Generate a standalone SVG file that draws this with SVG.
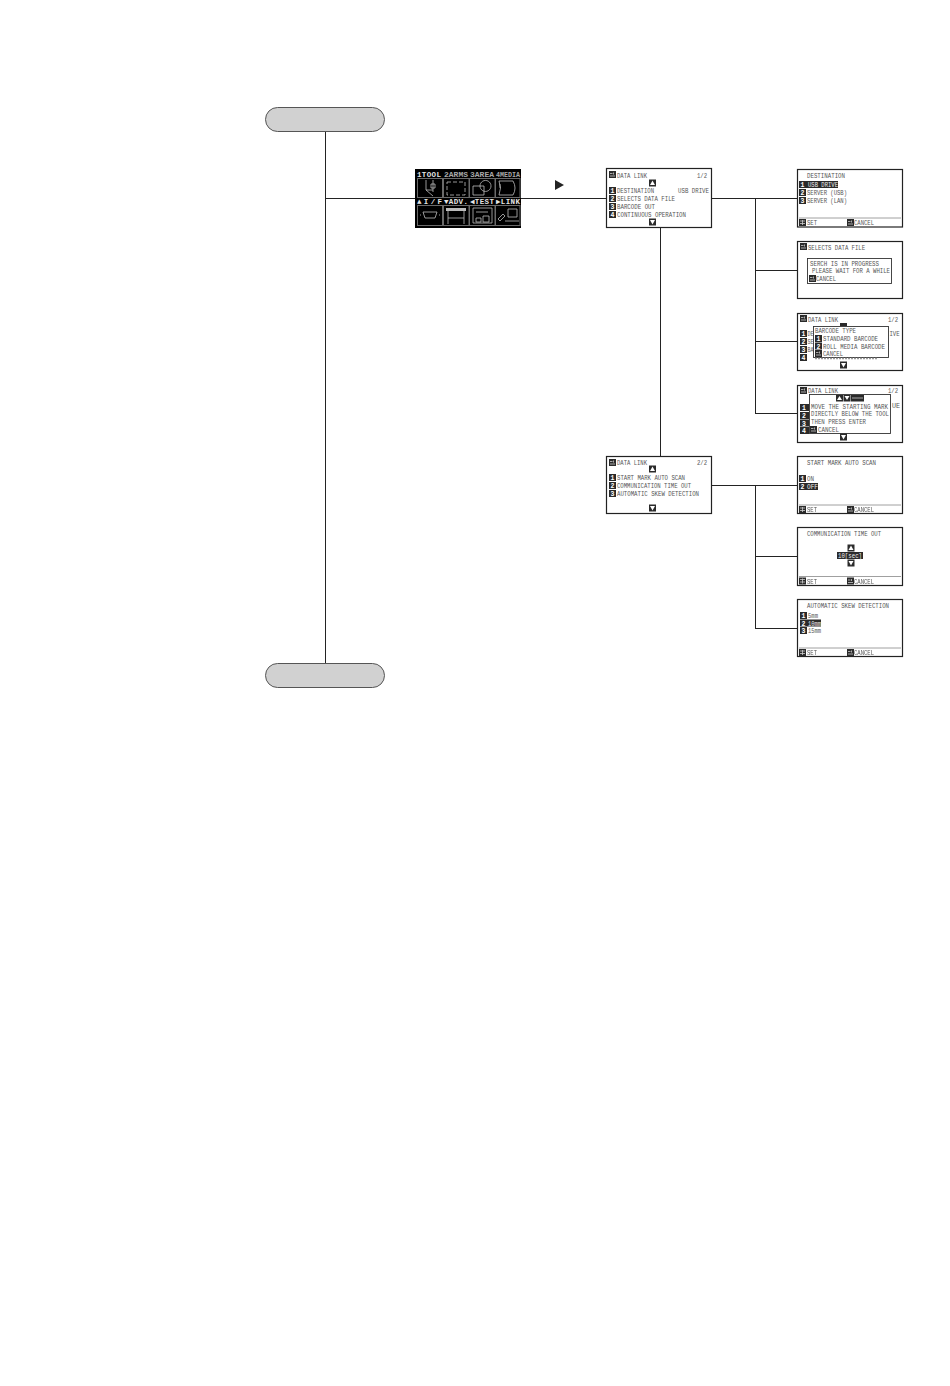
<svg xmlns="http://www.w3.org/2000/svg" width="950" height="1386" viewBox="0 0 950 1386">
<style>
.bg{fill:#fff}
.pill{fill:#d1d1d1;stroke:#555;stroke-width:1}
.panel{fill:#fff;stroke:#222;stroke-width:1.2}
.pop{fill:#fff;stroke:#333;stroke-width:.9}
.conn{fill:none;stroke:#222;stroke-width:1}
.sep{stroke:#888;stroke-width:.8}
.k{fill:#2a2a2a}
g[id]{opacity:.995}
text{font-family:"Liberation Mono",monospace;font-size:8px;fill:#555}
.n{font-size:6.5px;fill:#fff;font-weight:bold}
.w{fill:#eee}
.m{font-family:"Liberation Mono",monospace;font-size:7.5px;font-weight:bold;fill:#e4e4e4}
.d{fill:#a8a8a8}
.tri{fill:#222}
.ico{fill:none;stroke:#bbb;stroke-width:.8}
.cell{fill:#000;stroke:#6a6a6a;stroke-width:1}
.kk{stroke:#ccc;stroke-width:.8;fill:none}
</style>
<defs>
<g id="up"><rect x="-3.500" y="-3.500" width="7" height="7" class="k"/><path d="M0-2.500 2.500 2H-2.500Z" fill="#fff"/></g>
<g id="dn"><rect x="-3.500" y="-3.500" width="7" height="7" class="k"/><path d="M0 2.500 2.500-2H-2.500Z" fill="#fff"/></g>
<g id="esc"><rect width="7" height="7" class="k"/><path d="M1 2.500H3.500M1 5H6M4.500 1.500V3.500" class="kk"/></g>
<g id="set"><rect width="7" height="7" class="k"/><path d="M1 2H6M1 4.500H6M3.500 1V6" class="kk"/></g>
<g id="foot">
<line x1="799" y1="218" x2="901" y2="218" class="sep"/>
<use href="#set" x="799" y="219"/><text x="807" y="225" textLength="10" lengthAdjust="spacingAndGlyphs">SET</text>
<use href="#esc" x="847" y="219"/><text x="854" y="225" textLength="20" lengthAdjust="spacingAndGlyphs">CANCEL</text>
</g>
</defs>
<rect class="bg" width="950" height="1386"/>
<g id="connectors" class="conn">
<path d="M325.500 131V663M325 198.500H415M521 198.500H606M711 198.500H797M755.500 198V413.500M755 270.500H797M755 341.500H797M755 413.500H797M660.500 227V456M711 485.500H797M755.500 485V628.500M755 556.500H797M755 628.500H797"/>
</g>
<g id="start"><rect class="pill" x="265.500" y="107.500" width="119" height="24" rx="12"/></g>
<g id="end"><rect class="pill" x="265.500" y="663.500" width="119" height="24" rx="12"/></g>
<g id="arrow"><path class="tri" d="M555 180 564 185 555 190Z"/></g>

<g id="menu">
<rect x="415" y="169" width="106" height="59" fill="#000"/>
<text class="m" x="417" y="177" textLength="24" lengthAdjust="spacing">1TOOL</text>
<text class="m d" x="444" y="177" textLength="24" lengthAdjust="spacingAndGlyphs">2ARMS</text>
<text class="m d" x="470" y="177" textLength="24" lengthAdjust="spacingAndGlyphs">3AREA</text>
<text class="m d" x="496" y="177" textLength="24" lengthAdjust="spacingAndGlyphs">4MEDIA</text>
<rect class="cell" x="417.500" y="178.500" width="25" height="19"/><rect class="cell" x="443.500" y="178.500" width="25.500" height="19"/><rect class="cell" x="469.500" y="178.500" width="25.500" height="19"/><rect class="cell" x="495.500" y="178.500" width="24.500" height="19"/>
<path class="ico" d="M426 180V190L433 196M433 180V192M431 184H435V188H431ZM426 190H433"/>
<path class="ico" stroke-dasharray="4 2" d="M447 182H465V195H447Z"/>
<path class="ico" d="M473 186H484V195H473ZM491 186A5.500 5.500 0 1 1 491 185.900"/>
<path class="ico" d="M499 181H513Q517 188 513 195H499M499 181Q502 188 499 195M500 184V188"/>
<text class="m" x="417" y="204" textLength="25" lengthAdjust="spacing">▲I/F</text>
<text class="m" x="444" y="204" textLength="24" lengthAdjust="spacing">▼ADV.</text>
<text class="m" x="470" y="204" textLength="24" lengthAdjust="spacing">◀TEST</text>
<text class="m" x="496" y="204" textLength="24" lengthAdjust="spacing">▶LINK</text>
<rect class="cell" x="417.500" y="205.500" width="25" height="20"/><rect class="cell" x="443.500" y="205.500" width="25.500" height="20"/><rect class="cell" x="469.500" y="205.500" width="25.500" height="20"/><rect class="cell" x="495.500" y="205.500" width="24.500" height="20"/>
<path class="ico" d="M423 212H437L435 218H425ZM420 215H421M439 215H440"/>
<path d="M446 208H466V211H446Z" fill="#bbb"/><path class="ico" d="M448 211V224M464 211V224M448 218H464"/>
<path class="ico" d="M473 208H492V223H473ZM476 212H488M476 218H481V222H476ZM483 216H489V222H483Z"/>
<path class="ico" d="M498 219 503 214 505 216 500 221ZM508 209H517V217H508ZM505 221H519"/>
</g>

<g id="data-link-1">
<rect class="panel" x="606.500" y="168.500" width="105" height="59"/>
<use href="#esc" x="609" y="171"/>
<text x="617" y="177.500" textLength="30" lengthAdjust="spacingAndGlyphs">DATA LINK</text>
<text x="697" y="177.500" textLength="10" lengthAdjust="spacingAndGlyphs">1/2</text>
<use href="#up" x="652.500" y="183"/>
<rect x="609" y="187" width="7" height="7" class="k"/><text class="n" x="610.500" y="193">1</text>
<text x="617" y="193" textLength="37" lengthAdjust="spacingAndGlyphs">DESTINATION</text>
<text x="678" y="193" textLength="31" lengthAdjust="spacingAndGlyphs">USB DRIVE</text>
<rect x="609" y="195" width="7" height="7" class="k"/><text class="n" x="610.500" y="201">2</text>
<text x="617" y="201" textLength="58" lengthAdjust="spacingAndGlyphs">SELECTS DATA FILE</text>
<rect x="609" y="203" width="7" height="7" class="k"/><text class="n" x="610.500" y="209">3</text>
<text x="617" y="209" textLength="38" lengthAdjust="spacingAndGlyphs">BARCODE OUT</text>
<rect x="609" y="211" width="7" height="7" class="k"/><text class="n" x="610.500" y="217">4</text>
<text x="617" y="217" textLength="69" lengthAdjust="spacingAndGlyphs">CONTINUOUS OPERATION</text>
<use href="#dn" x="652.500" y="222"/>
</g>

<g id="data-link-2">
<rect class="panel" x="606.500" y="456.500" width="105" height="57"/>
<use href="#esc" x="609" y="459"/>
<text x="617" y="465" textLength="30" lengthAdjust="spacingAndGlyphs">DATA LINK</text>
<text x="697" y="465" textLength="10" lengthAdjust="spacingAndGlyphs">2/2</text>
<use href="#up" x="652.500" y="469"/>
<rect x="609" y="474" width="7" height="7" class="k"/><text class="n" x="610.500" y="480">1</text>
<text x="617" y="480" textLength="68" lengthAdjust="spacingAndGlyphs">START MARK AUTO SCAN</text>
<rect x="609" y="482" width="7" height="7" class="k"/><text class="n" x="610.500" y="488">2</text>
<text x="617" y="488" textLength="74" lengthAdjust="spacingAndGlyphs">COMMUNICATION TIME OUT</text>
<rect x="609" y="490" width="7" height="7" class="k"/><text class="n" x="610.500" y="496">3</text>
<text x="617" y="496" textLength="82" lengthAdjust="spacingAndGlyphs">AUTOMATIC SKEW DETECTION</text>
<use href="#dn" x="652.500" y="508"/>
</g>

<g id="destination">
<rect class="panel" x="797.500" y="169.500" width="105" height="57.500"/>
<text x="807" y="177.500" textLength="38" lengthAdjust="spacingAndGlyphs">DESTINATION</text>
<rect x="799" y="181" width="39" height="7" class="k"/><text class="n" x="800.500" y="187">1</text>
<text class="w" x="808" y="187" textLength="30" lengthAdjust="spacingAndGlyphs">USB DRIVE</text>
<rect x="799" y="189" width="7" height="7" class="k"/><text class="n" x="800.500" y="195">2</text>
<text x="807" y="195" textLength="40" lengthAdjust="spacingAndGlyphs">SERVER (USB)</text>
<rect x="799" y="197" width="7" height="7" class="k"/><text class="n" x="800.500" y="203">3</text>
<text x="807" y="203" textLength="40" lengthAdjust="spacingAndGlyphs">SERVER (LAN)</text>
<use href="#foot"/>
</g>

<g id="selects-data-file">
<rect class="panel" x="797.500" y="241.500" width="105" height="57"/>
<use href="#esc" x="800" y="243"/>
<text x="808" y="249.500" textLength="57" lengthAdjust="spacingAndGlyphs">SELECTS DATA FILE</text>
<rect class="pop" x="807.500" y="258.500" width="84" height="25"/>
<text x="810" y="265.500" textLength="69" lengthAdjust="spacingAndGlyphs">SERCH IS IN PROGRESS</text>
<text x="812" y="273" textLength="78" lengthAdjust="spacingAndGlyphs">PLEASE WAIT FOR A WHILE</text>
<use href="#esc" x="809" y="275"/>
<text x="816" y="281" textLength="20" lengthAdjust="spacingAndGlyphs">CANCEL</text>
</g>

<g id="barcode-type">
<rect class="panel" x="797.500" y="313.500" width="105" height="57"/>
<use href="#esc" x="800" y="315"/>
<text x="808" y="321.500" textLength="30" lengthAdjust="spacingAndGlyphs">DATA LINK</text>
<text x="888" y="321.500" textLength="10" lengthAdjust="spacingAndGlyphs">1/2</text>
<rect x="800" y="330" width="7" height="7" class="k"/><text class="n" x="801.500" y="336">1</text><text x="807.500" y="336" textLength="6" lengthAdjust="spacingAndGlyphs">DE</text>
<rect x="800" y="338" width="7" height="7" class="k"/><text class="n" x="801.500" y="344">2</text><text x="807.500" y="344" textLength="6" lengthAdjust="spacingAndGlyphs">SE</text>
<rect x="800" y="346" width="7" height="7" class="k"/><text class="n" x="801.500" y="352">3</text><text x="807.500" y="352" textLength="6" lengthAdjust="spacingAndGlyphs">BA</text>
<rect x="800" y="354" width="7" height="7" class="k"/><text class="n" x="801.500" y="360">4</text>
<text x="889.500" y="336" textLength="10" lengthAdjust="spacingAndGlyphs">IVE</text>
<rect x="840" y="323" width="7" height="3" class="k"/>
<rect class="pop" x="813.500" y="326.500" width="75" height="31"/>
<text x="815" y="333" textLength="41" lengthAdjust="spacingAndGlyphs">BARCODE TYPE</text>
<rect x="815" y="335" width="7" height="7" class="k"/><text class="n" x="816.500" y="341">1</text>
<text x="823" y="341" textLength="55" lengthAdjust="spacingAndGlyphs">STANDARD BARCODE</text>
<rect x="815" y="342.500" width="7" height="7" class="k"/><text class="n" x="816.500" y="348.500">2</text>
<text x="823" y="348.500" textLength="62" lengthAdjust="spacingAndGlyphs">ROLL MEDIA BARCODE</text>
<use href="#esc" x="815" y="350"/>
<text x="823" y="356" textLength="20" lengthAdjust="spacingAndGlyphs">CANCEL</text>
<path d="M815 358.500H877" stroke="#999" stroke-width="1.500" stroke-dasharray="2 1"/>
<use href="#dn" x="843.500" y="365"/>
</g>

<g id="start-mark-help">
<rect class="panel" x="797.500" y="385.500" width="105" height="57"/>
<use href="#esc" x="800" y="387"/>
<text x="808" y="393" textLength="30" lengthAdjust="spacingAndGlyphs">DATA LINK</text>
<text x="888" y="393" textLength="10" lengthAdjust="spacingAndGlyphs">1/2</text>
<rect x="800" y="404" width="9" height="7" class="k"/><text class="n" x="802" y="410">1</text>
<rect x="800" y="412" width="9" height="7" class="k"/><text class="n" x="802" y="418">2</text>
<rect x="800" y="419.500" width="9" height="7" class="k"/><text class="n" x="802" y="425.500">3</text>
<rect x="800" y="427" width="9" height="7" class="k"/><text class="n" x="802" y="433">4</text>
<text x="892" y="408" textLength="8" lengthAdjust="spacingAndGlyphs">UE</text>
<rect class="pop" x="809.500" y="394.500" width="81" height="39"/>
<rect x="836" y="395" width="7" height="6.500" class="k"/><path d="M839.500 396 842 400H837Z" fill="#fff"/>
<rect x="843.500" y="395" width="7" height="6.500" class="k"/><path d="M847 400 849.500 396H844.500Z" fill="#fff"/>
<rect x="851" y="395" width="13" height="6.500" class="k"/><path d="M852 398H863" class="kk"/>
<text x="811" y="408.500" textLength="77" lengthAdjust="spacingAndGlyphs">MOVE THE STARTING MARK</text>
<text x="811" y="416" textLength="78" lengthAdjust="spacingAndGlyphs">DIRECTLY BELOW THE TOOL</text>
<text x="811" y="424" textLength="55" lengthAdjust="spacingAndGlyphs">THEN PRESS ENTER</text>
<use href="#esc" x="810" y="426"/>
<text x="818" y="432" textLength="21" lengthAdjust="spacingAndGlyphs">CANCEL</text>
<use href="#dn" x="843.500" y="437"/>
</g>

<g id="start-mark-auto-scan">
<rect class="panel" x="797.500" y="456.500" width="105" height="57"/>
<text x="807" y="464.500" textLength="69" lengthAdjust="spacingAndGlyphs">START MARK AUTO SCAN</text>
<rect x="799" y="475" width="7" height="7" class="k"/><text class="n" x="800.500" y="481">1</text>
<text x="807" y="481" textLength="7" lengthAdjust="spacingAndGlyphs">ON</text>
<rect x="799" y="483" width="19" height="7" class="k"/><text class="n" x="800.500" y="489">2</text>
<text class="w" x="807" y="489" textLength="11" lengthAdjust="spacingAndGlyphs">OFF</text>
<use href="#foot" y="287"/>
</g>

<g id="communication-time-out">
<rect class="panel" x="797.500" y="527.500" width="105" height="58"/>
<text x="807" y="535.500" textLength="74" lengthAdjust="spacingAndGlyphs">COMMUNICATION TIME OUT</text>
<use href="#up" x="851" y="548"/>
<rect x="837" y="552" width="26" height="7" class="k"/>
<text class="w" x="838" y="558" textLength="24" lengthAdjust="spacingAndGlyphs">10[sec]</text>
<use href="#dn" x="851" y="563"/>
<use href="#foot" y="358.500"/>
</g>

<g id="automatic-skew-detection">
<rect class="panel" x="797.500" y="599.500" width="105" height="57"/>
<text x="807" y="607.500" textLength="82" lengthAdjust="spacingAndGlyphs">AUTOMATIC SKEW DETECTION</text>
<rect x="800" y="612" width="7" height="7" class="k"/><text class="n" x="801.500" y="618">1</text>
<text x="808" y="618" textLength="10" lengthAdjust="spacingAndGlyphs">5mm</text>
<rect x="800" y="619.500" width="21" height="7" class="k"/><text class="n" x="801.500" y="625.500">2</text>
<text class="w" x="808" y="625.500" textLength="13" lengthAdjust="spacingAndGlyphs">10mm</text>
<rect x="800" y="627" width="7" height="7" class="k"/><text class="n" x="801.500" y="633">3</text>
<text x="808" y="633" textLength="13" lengthAdjust="spacingAndGlyphs">15mm</text>
<use href="#foot" y="430"/>
</g>
</svg>
